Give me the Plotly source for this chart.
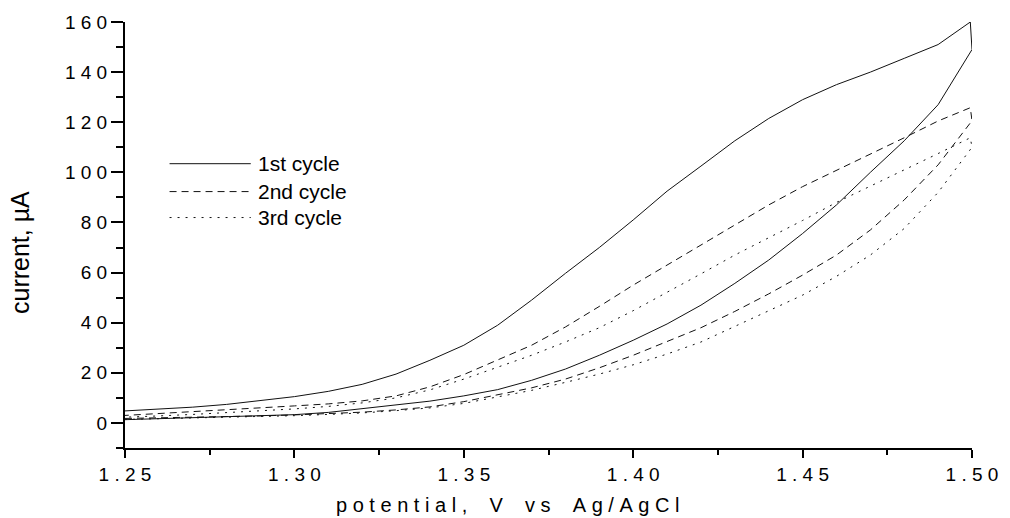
import plotly.graph_objects as go

# ---------------- data ----------------
# cycle 1 (solid)
c1_fwd_v = [1.25, 1.27, 1.29, 1.30, 1.31, 1.32, 1.33, 1.34, 1.35, 1.36, 1.37, 1.38, 1.39,
            1.40, 1.41, 1.42, 1.43, 1.44, 1.45, 1.46, 1.47, 1.48, 1.49, 1.50]
c1_fwd_i = [1.3, 2.0, 2.8, 3.3, 4.2, 5.6, 7.0, 8.7, 10.8, 13.3, 17.0, 21.5, 27.0,
            33.0, 39.5, 47.0, 55.7, 65.0, 75.6, 87.0, 100.0, 112.6, 127.0, 149.0]
c1_rev_v = [1.4995, 1.49, 1.48, 1.47, 1.46, 1.45, 1.44, 1.43, 1.42, 1.41, 1.40, 1.39, 1.38,
            1.37, 1.36, 1.35, 1.34, 1.33, 1.32, 1.31, 1.30, 1.29, 1.28, 1.27, 1.26, 1.25]
c1_rev_i = [160.0, 151.0, 145.5, 140.0, 135.0, 129.0, 121.5, 112.6, 102.5, 92.5, 81.0, 70.0, 59.7,
            49.0, 39.0, 31.0, 25.0, 19.5, 15.4, 12.6, 10.5, 8.8, 7.4, 6.3, 5.5, 4.8]

# cycle 2 (dashed)
c2_fwd_v = [1.25, 1.27, 1.29, 1.30, 1.31, 1.32, 1.33, 1.34, 1.35, 1.36, 1.37, 1.38, 1.39,
            1.40, 1.41, 1.42, 1.43, 1.44, 1.45, 1.46, 1.47, 1.48, 1.49, 1.50]
c2_fwd_i = [1.8, 2.2, 2.8, 3.2, 3.7, 4.3, 5.2, 6.4, 8.5, 11.1, 14.0, 17.5, 22.0,
            27.0, 32.5, 38.0, 44.5, 51.5, 59.0, 67.0, 77.0, 89.0, 103.0, 120.6]
c2_rev_v = [1.4995, 1.49, 1.48, 1.47, 1.46, 1.45, 1.44, 1.43, 1.42, 1.41, 1.40, 1.39, 1.38,
            1.37, 1.36, 1.35, 1.34, 1.33, 1.32, 1.31, 1.30, 1.29, 1.28, 1.27, 1.26, 1.25]
c2_rev_i = [125.8, 120.5, 113.8, 107.2, 100.8, 94.3, 87.0, 79.0, 71.0, 63.0, 55.0, 46.5, 38.3,
            31.0, 25.0, 19.3, 14.4, 10.8, 8.8, 7.6, 6.8, 6.0, 5.2, 4.5, 3.8, 3.0]

# cycle 3 (dotted)
c3_fwd_v = [1.25, 1.27, 1.29, 1.30, 1.31, 1.32, 1.33, 1.34, 1.35, 1.36, 1.37, 1.38, 1.39,
            1.40, 1.41, 1.42, 1.43, 1.44, 1.45, 1.46, 1.47, 1.48, 1.49, 1.50]
c3_fwd_i = [1.4, 1.9, 2.5, 2.9, 3.4, 4.0, 4.9, 6.0, 7.8, 10.3, 13.0, 16.2, 19.5,
            23.2, 27.5, 32.3, 38.5, 44.5, 51.0, 58.5, 67.0, 77.6, 92.0, 110.0]
c3_rev_v = [1.4995, 1.49, 1.48, 1.47, 1.46, 1.45, 1.44, 1.43, 1.42, 1.41, 1.40, 1.39, 1.38,
            1.37, 1.36, 1.35, 1.34, 1.33, 1.32, 1.31, 1.30, 1.29, 1.28, 1.27, 1.26, 1.25]
c3_rev_i = [113.8, 107.5, 101.0, 94.7, 88.0, 80.8, 74.0, 67.0, 59.5, 52.0, 44.8, 38.0, 32.3,
            27.0, 22.3, 17.5, 13.2, 10.0, 8.0, 6.6, 5.6, 4.8, 4.1, 3.4, 2.8, 2.3]

series_names = ["1st cycle", "2nd cycle", "3rd cycle"]
x_ticks = [1.25, 1.30, 1.35, 1.40, 1.45, 1.50]
y_ticks = [0, 20, 40, 60, 80, 100, 120, 140, 160]
x_title = "potential, V vs Ag/AgCl"
y_title = "current, \u00b5A"

# ---------------- styling ----------------
FONT = "Liberation Sans, Arial, sans-serif"
NB = "\u00a0"
dashes = ["solid", "7px,5px", "2px,6px"]
line_color = "#111111"


def spaced(s, word_gap=4):
    words = s.split(" ")
    return (NB * word_gap).join(NB.join(list(w)) for w in words)


x_labels = [spaced(f"{v:.2f}") for v in x_ticks]
y_labels = [spaced(str(v)) for v in y_ticks]

fig = go.Figure()
cycles = [
    (c1_fwd_v + c1_rev_v, c1_fwd_i + c1_rev_i),
    (c2_fwd_v + c2_rev_v, c2_fwd_i + c2_rev_i),
    (c3_fwd_v + c3_rev_v, c3_fwd_i + c3_rev_i),
]
for (xv, yv), name, dash in zip(cycles, series_names, dashes):
    fig.add_trace(go.Scatter(x=xv, y=yv, mode="lines", name=name,
                             line=dict(color=line_color, width=1, dash=dash),
                             showlegend=False))

# hand-drawn legend (long sample lines as in the reference)
leg_y = [0.6674, 0.6019, 0.541]
for name, dash, yy in zip(series_names, dashes, leg_y):
    fig.add_shape(type="line", xref="paper", yref="paper", x0=0.0526, x1=0.1485,
                  y0=yy, y1=yy, line=dict(color=line_color, width=1, dash=dash))
    fig.add_annotation(xref="paper", yref="paper", x=0.1544, y=yy, text=name,
                       showarrow=False, xanchor="left", yanchor="middle",
                       font=dict(family=FONT, size=21, color="#000"))

# axis titles
fig.add_annotation(xref="paper", yref="paper", x=0.4515, y=-0.134,
                   text=spaced(x_title, 4),
                   showarrow=False, xanchor="center", yanchor="middle",
                   font=dict(family=FONT, size=20, color="#000"))
fig.add_annotation(xref="paper", yref="paper", x=-0.124, y=0.46, text=y_title,
                   textangle=-90, showarrow=False, xanchor="center", yanchor="middle",
                   font=dict(family=FONT, size=25, color="#000"))

fig.update_xaxes(range=[1.25, 1.50], tickmode="array", tickvals=x_ticks, ticktext=x_labels,
                 showgrid=False, zeroline=False, showline=True, linecolor="#000", linewidth=2,
                 ticks="outside", ticklen=8, tickwidth=1.5, tickcolor="#000",
                 tickfont=dict(family=FONT, size=19, color="#000"),
                 minor=dict(ticks="outside", ticklen=5, tickwidth=1.5, tickcolor="#000",
                            tickmode="linear", tick0=1.275, dtick=0.05))
fig.update_yaxes(range=[-10, 160], tickmode="array", tickvals=y_ticks, ticktext=y_labels,
                 showgrid=False, zeroline=False, showline=True, linecolor="#000", linewidth=2,
                 ticks="outside", ticklen=12, tickwidth=1.5, tickcolor="#000",
                 tickfont=dict(family=FONT, size=19, color="#000"),
                 minor=dict(ticks="outside", ticklen=7, tickwidth=1.5, tickcolor="#000",
                            tickmode="linear", tick0=-10, dtick=20))

fig.update_layout(width=1010, height=518, margin=dict(l=125, r=30, t=21, b=70),
                  plot_bgcolor="white", paper_bgcolor="white", showlegend=False)

fig.write_html("out.html")
